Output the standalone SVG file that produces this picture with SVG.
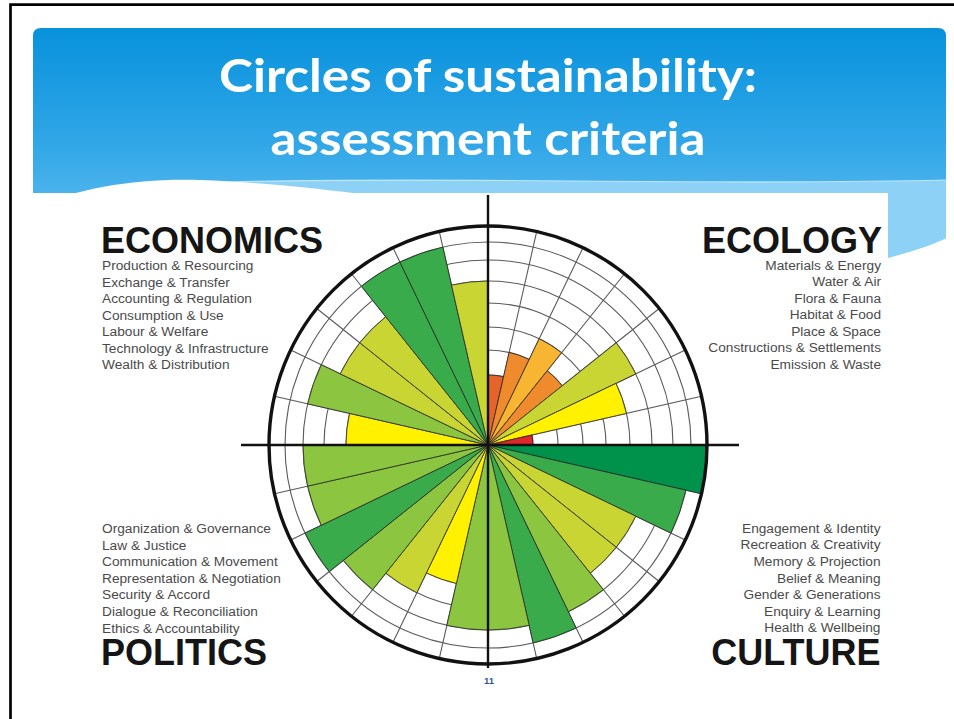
<svg xmlns="http://www.w3.org/2000/svg" width="954" height="719" viewBox="0 0 954 719">
<defs>
<linearGradient id="sky" x1="0" y1="28" x2="0" y2="280" gradientUnits="userSpaceOnUse">
<stop offset="0" stop-color="#0892dc"/>
<stop offset="0.45" stop-color="#30a6e7"/>
<stop offset="0.8" stop-color="#5dbcf0"/>
<stop offset="1" stop-color="#86cef5"/>
</linearGradient>
<style>
.title{font-family:Lato,"Open Sans","Liberation Sans",sans-serif;font-weight:700;font-size:45px;fill:#ffffff;text-anchor:middle}
.head{font-family:"Liberation Sans",Arial,sans-serif;font-weight:700;font-size:36px;fill:#151515}
.item{font-family:"Liberation Sans",Arial,sans-serif;font-size:13.7px;fill:#4a4a4a}
.r{text-anchor:end}
.grid{fill:none;stroke:#5a5a5a;stroke-width:1.1}
.w{stroke:#2a2a2a;stroke-width:0.8;stroke-linejoin:round}
.ro{fill:#e6632b}.or{fill:#ef8b2c}.go{fill:#f7b531}.yg{fill:#c8d533}.ye{fill:#fff100}.rd{fill:#e0282b}
.dg{fill:#00924a}.gr{fill:#3aab4a}.mg{fill:#8cc540}
.axis{stroke:#111;stroke-width:2.4;fill:none}
</style>
</defs>

<g id="slide">
<rect width="954" height="719" fill="#ffffff"/>
<path d="M33,36 Q33,28 41,28 H938 Q946,28 946,36 V292 H33 Z" fill="url(#sky)"/>
<path d="M230,182 C450,176 700,186 946,180 V292 H230 Z" fill="#8ed1f6"/>
<path d="M230,182 C450,176 700,186 946,180" fill="none" stroke="#d5efff" stroke-width="1.2" opacity="0.8"/>
<path d="M33,208 C80,187 140,178 200,180 C260,182 320,189 370,195 L370,205 L33,205 Z" fill="#ffffff"/>
<rect x="33" y="193" width="855" height="526" fill="#ffffff"/>
<path d="M888,258 C910,252 930,246 947,238 L947,300 L888,300 Z" fill="#ffffff"/>
<path d="M10.5,719 V4.7 H954" fill="none" stroke="#000" stroke-width="2.7"/>
<text class="title" x="488" y="92" textLength="538" lengthAdjust="spacingAndGlyphs">Circles of sustainability:</text>
<text class="title" x="488" y="155" textLength="435" lengthAdjust="spacingAndGlyphs">assessment criteria</text>
<text x="489" y="684" font-family="'Liberation Sans Narrow','Liberation Sans',sans-serif" font-size="9.5" font-weight="700" fill="#2f5496" text-anchor="middle">11</text>
</g>

<g id="grid">
<circle class="grid" cx="488" cy="445" r="45"/>
<circle class="grid" cx="488" cy="445" r="70"/>
<circle class="grid" cx="488" cy="445" r="95"/>
<circle class="grid" cx="488" cy="445" r="118"/>
<circle class="grid" cx="488" cy="445" r="142"/>
<circle class="grid" cx="488" cy="445" r="164"/>
<circle class="grid" cx="488" cy="445" r="185"/>
<circle class="grid" cx="488" cy="445" r="203"/>
<path class="grid" d="M536.73,231.49L439.27,658.51M583.02,247.69L392.98,642.31M624.54,273.78L351.46,616.22M659.22,308.46L316.78,581.54M685.31,349.98L290.69,540.02M701.51,396.27L274.49,493.73M701.51,493.73L274.49,396.27M685.31,540.02L290.69,349.98M659.22,581.54L316.78,308.46M624.54,616.22L351.46,273.78M583.02,642.31L392.98,247.69M536.73,658.51L439.27,231.49"/>
</g>

<g id="ecology-wedges">
<path class="w ro" d="M488,445L488,375A70,70 0 0 1 503.58,376.75Z"/>
<path class="w or" d="M488,445L509.14,352.38A95,95 0 0 1 529.22,359.41Z"/>
<path class="w go" d="M488,445L539.2,338.69A118,118 0 0 1 561.57,352.74Z"/>
<path class="w or" d="M488,445L547.23,370.73A95,95 0 0 1 562.27,385.77Z"/>
<path class="w yg" d="M488,445L616.22,342.75A164,164 0 0 1 635.76,373.84Z"/>
<path class="w ye" d="M488,445L615.94,383.39A142,142 0 0 1 626.44,413.4Z"/>
<path class="w rd" d="M488,445L531.87,434.99A45,45 0 0 1 533,445Z"/>
</g>
<g id="culture-wedges">
<path class="w dg" d="M488,445L707,445A219,219 0 0 1 701.51,493.73Z"/>
<path class="w gr" d="M488,445L685.91,490.17A203,203 0 0 1 670.9,533.08Z"/>
<path class="w yg" d="M488,445L635.76,516.16A164,164 0 0 1 616.22,547.25Z"/>
<path class="w yg" d="M488,445L616.22,547.25A164,164 0 0 1 590.25,573.22Z"/>
<path class="w mg" d="M488,445L603.35,589.64A185,185 0 0 1 568.27,611.68Z"/>
<path class="w gr" d="M488,445L576.08,627.9A203,203 0 0 1 533.17,642.91Z"/>
<path class="w mg" d="M488,445L529.17,625.36A185,185 0 0 1 488,630Z"/>
</g>
<g id="politics-wedges">
<path class="w mg" d="M488,445L488,630A185,185 0 0 1 446.83,625.36Z"/>
<path class="w ye" d="M488,445L456.4,583.44A142,142 0 0 1 426.39,572.94Z"/>
<path class="w yg" d="M488,445L416.84,592.76A164,164 0 0 1 385.75,573.22Z"/>
<path class="w mg" d="M488,445L372.65,589.64A185,185 0 0 1 343.36,560.35Z"/>
<path class="w gr" d="M488,445L329.29,571.57A203,203 0 0 1 305.1,533.08Z"/>
<path class="w mg" d="M488,445L321.32,525.27A185,185 0 0 1 307.64,486.17Z"/>
<path class="w mg" d="M488,445L307.64,486.17A185,185 0 0 1 303,445Z"/>
</g>
<g id="economics-wedges">
<path class="w ye" d="M488,445L346,445A142,142 0 0 1 349.56,413.4Z"/>
<path class="w mg" d="M488,445L307.64,403.83A185,185 0 0 1 321.32,364.73Z"/>
<path class="w yg" d="M488,445L340.24,373.84A164,164 0 0 1 359.78,342.75Z"/>
<path class="w yg" d="M488,445L359.78,342.75A164,164 0 0 1 385.75,316.78Z"/>
<path class="w gr" d="M488,445L361.43,286.29A203,203 0 0 1 399.92,262.1Z"/>
<path class="w gr" d="M488,445L399.92,262.1A203,203 0 0 1 442.83,247.09Z"/>
<path class="w yg" d="M488,445L451.51,285.11A164,164 0 0 1 488,281Z"/>
</g>

<g id="connectors">
<circle cx="488" cy="445" r="219" fill="none" stroke="#111" stroke-width="3.4"/>
<path class="axis" d="M488,195V668M241,445H739"/>
</g>

<g id="economics">
<text class="head" x="101" y="252.5">ECONOMICS</text>
<text class="item" x="102" y="270">Production &amp; Resourcing</text>
<text class="item" x="102" y="286.5">Exchange &amp; Transfer</text>
<text class="item" x="102" y="303">Accounting &amp; Regulation</text>
<text class="item" x="102" y="319.5">Consumption &amp; Use</text>
<text class="item" x="102" y="336">Labour &amp; Welfare</text>
<text class="item" x="102" y="352.5">Technology &amp; Infrastructure</text>
<text class="item" x="102" y="369">Wealth &amp; Distribution</text>
</g>
<g id="ecology">
<text class="head r" x="882" y="252.5">ECOLOGY</text>
<text class="item r" x="881" y="269.5">Materials &amp; Energy</text>
<text class="item r" x="881" y="286">Water &amp; Air</text>
<text class="item r" x="881" y="302.5">Flora &amp; Fauna</text>
<text class="item r" x="881" y="319">Habitat &amp; Food</text>
<text class="item r" x="881" y="335.5">Place &amp; Space</text>
<text class="item r" x="881" y="352">Constructions &amp; Settlements</text>
<text class="item r" x="881" y="368.5">Emission &amp; Waste</text>
</g>
<g id="politics">
<text class="item" x="102" y="533">Organization &amp; Governance</text>
<text class="item" x="102" y="549.6">Law &amp; Justice</text>
<text class="item" x="102" y="566.2">Communication &amp; Movement</text>
<text class="item" x="102" y="582.8">Representation &amp; Negotiation</text>
<text class="item" x="102" y="599.4">Security &amp; Accord</text>
<text class="item" x="102" y="616">Dialogue &amp; Reconciliation</text>
<text class="item" x="102" y="632.6">Ethics &amp; Accountability</text>
<text class="head" x="101" y="664.5">POLITICS</text>
</g>
<g id="culture">
<text class="item r" x="880.5" y="532.8">Engagement &amp; Identity</text>
<text class="item r" x="880.5" y="549.4">Recreation &amp; Creativity</text>
<text class="item r" x="880.5" y="566">Memory &amp; Projection</text>
<text class="item r" x="880.5" y="582.6">Belief &amp; Meaning</text>
<text class="item r" x="880.5" y="599.2">Gender &amp; Generations</text>
<text class="item r" x="880.5" y="615.8">Enquiry &amp; Learning</text>
<text class="item r" x="880.5" y="632.4">Health &amp; Wellbeing</text>
<text class="head r" x="880.5" y="664.5">CULTURE</text>
</g>
</svg>
